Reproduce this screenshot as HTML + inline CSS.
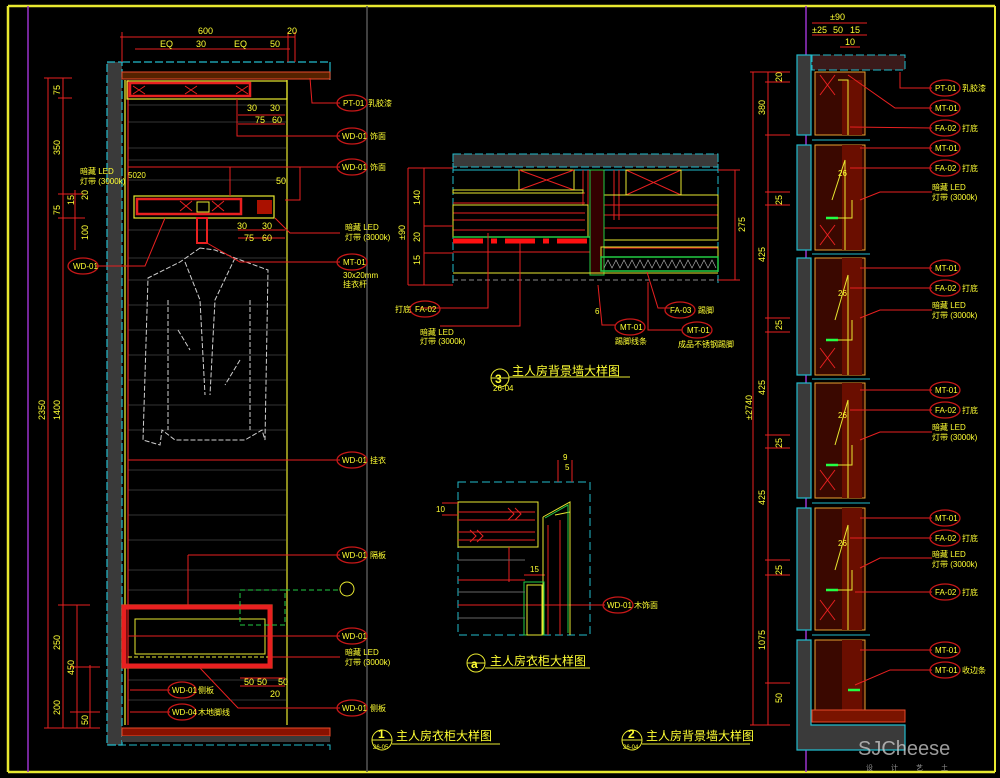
<!DOCTYPE html>
<html><head><meta charset="utf-8"><style>
html,body{margin:0;padding:0;background:#000;}
svg{display:block}
text{font-family:"Liberation Sans","Noto Sans CJK SC",sans-serif;fill:#ffff33}
.s{font-size:8px}
.d{font-size:9px}
</style></head><body>
<svg width="1000" height="778" viewBox="0 0 1000 778" xmlns="http://www.w3.org/2000/svg">
<rect width="1000" height="778" fill="#000"/>
<!-- frame -->
<g fill="none">
<line x1="8" y1="6" x2="995" y2="6" stroke="#e8e830" stroke-width="2.5"/>
<line x1="8" y1="772" x2="995" y2="772" stroke="#e8e830" stroke-width="2.5"/>
<line x1="8" y1="6" x2="8" y2="772" stroke="#e8e830" stroke-width="2.5"/>
<line x1="995" y1="6" x2="995" y2="772" stroke="#e8e830" stroke-width="2"/>
<line x1="28" y1="6" x2="28" y2="772" stroke="#9933cc" stroke-width="1.5"/>
<line x1="367" y1="6" x2="367" y2="772" stroke="#555" stroke-width="1.5"/>
<line x1="806" y1="6" x2="806" y2="772" stroke="#9933cc" stroke-width="1.5"/>
</g>

<!-- ===== LEFT CABINET ===== -->
<g fill="none">
<!-- faint shelf lines -->
<g stroke="#444" stroke-width="0.8">
<line x1="128" y1="105" x2="286" y2="105"/><line x1="128" y1="122" x2="286" y2="122"/>
<line x1="128" y1="148" x2="286" y2="148"/><line x1="128" y1="160" x2="286" y2="160"/>
<line x1="128" y1="180" x2="286" y2="180"/><line x1="128" y1="230" x2="286" y2="230"/>
<line x1="128" y1="258" x2="286" y2="258"/><line x1="128" y1="280" x2="286" y2="280"/>
<line x1="128" y1="305" x2="286" y2="305"/><line x1="128" y1="330" x2="286" y2="330"/>
<line x1="128" y1="355" x2="286" y2="355"/><line x1="128" y1="380" x2="286" y2="380"/>
<line x1="128" y1="405" x2="286" y2="405"/><line x1="128" y1="430" x2="286" y2="430"/>
<line x1="128" y1="470" x2="286" y2="470"/><line x1="128" y1="490" x2="286" y2="490"/>
<line x1="128" y1="515" x2="286" y2="515"/><line x1="128" y1="540" x2="286" y2="540"/>
<line x1="128" y1="570" x2="286" y2="570"/><line x1="128" y1="590" x2="286" y2="590"/>
<line x1="128" y1="680" x2="286" y2="680"/><line x1="128" y1="700" x2="286" y2="700"/>
</g>
<!-- wall -->
<rect x="107" y="62" width="15" height="683" fill="#3a3a3a" stroke="#22bbcc" stroke-width="1.2" stroke-dasharray="8 3"/>
<line x1="122" y1="62" x2="330" y2="62" stroke="#22bbcc" stroke-width="1.2" stroke-dasharray="8 3"/>
<line x1="330" y1="62" x2="330" y2="80" stroke="#22bbcc" stroke-width="1.2"/>
<rect x="122" y="72" width="208" height="7" fill="#552200" stroke="#e84a2a" stroke-width="1"/>
<!-- cabinet sides -->
<line x1="125" y1="80" x2="125" y2="725" stroke="#e8e830" stroke-width="1.3"/>
<line x1="128" y1="80" x2="128" y2="725" stroke="#e82020" stroke-width="1.2"/>
<line x1="287" y1="80" x2="287" y2="725" stroke="#e8e830" stroke-width="1.2"/>
<!-- top box -->
<rect x="127" y="81" width="160" height="18" stroke="#e8e830" stroke-width="1.2"/>
<rect x="130" y="83" width="120" height="13" stroke="#e82020" stroke-width="2.5"/>
<path d="M133 86 l12 8 M145 86 l-12 8 M185 86 l12 8 M197 86 l-12 8 M236 86 l12 8 M248 86 l-12 8" stroke="#e82020"/>
<!-- middle shelf -->
<rect x="134" y="196" width="140" height="22" stroke="#e8e830" stroke-width="1.2"/>
<rect x="137" y="199" width="104" height="15" stroke="#e82020" stroke-width="2.5"/>
<rect x="197" y="202" width="12" height="10" stroke="#e8e830"/>
<path d="M180 201 l12 10 M192 201 l-12 10 M212 201 l12 10 M224 201 l-12 10" stroke="#e82020"/>
<rect x="257" y="200" width="15" height="14" fill="#aa1100"/>
<!-- hanger rod -->
<rect x="197" y="218" width="10" height="25" stroke="#e82020" stroke-width="2"/>
<!-- coat -->
<g stroke="#cfcfcf" stroke-width="1" stroke-dasharray="5 2">
<path d="M200 248 L180 262 L148 278 L143 440 L160 445 L162 430 L175 440 L245 440 L262 430 L265 440 L268 270 L235 258 L215 250 Z"/>
<path d="M185 262 L200 300 L205 395 M235 258 L215 300 L210 395"/>
<path d="M168 300 L168 430 M250 300 L250 430 M178 330 L190 350 M240 360 L225 385"/>
</g>
<!-- bottom drawer -->
<rect x="122" y="605" width="150" height="63" stroke="#e8e830" stroke-width="1.2"/>
<rect x="124" y="607" width="146" height="59" stroke="#e82020" stroke-width="5"/>
<rect x="135" y="619" width="130" height="35" stroke="#e8e830" stroke-width="1"/>
<line x1="128" y1="657" x2="268" y2="657" stroke="#e8e830" stroke-dasharray="4 2"/>
<rect x="240" y="590" width="45" height="35" stroke="#22cc44" stroke-dasharray="5 3"/>
<line x1="285" y1="590" x2="340" y2="590" stroke="#22cc44" stroke-dasharray="5 3"/>
<circle cx="347" cy="589" r="7" stroke="#e8e830"/>
<!-- floor -->
<rect x="122" y="728" width="208" height="8" fill="#881100" stroke="#e84a2a"/>
<rect x="122" y="736" width="208" height="6" fill="#3a3a3a"/>
<path d="M107 745 L330 745 L330 752" stroke="#22bbcc" stroke-dasharray="8 3"/>
<!-- left dims -->
<g stroke="#e82020" stroke-width="1">
<line x1="48" y1="78" x2="48" y2="728"/><line x1="63" y1="78" x2="63" y2="728"/>
<line x1="75" y1="190" x2="75" y2="250"/><line x1="77" y1="605" x2="77" y2="728"/><line x1="90" y1="665" x2="90" y2="728"/>
<line x1="44" y1="78" x2="72" y2="78"/><line x1="58" y1="98" x2="72" y2="98"/><line x1="58" y1="194" x2="85" y2="194"/>
<line x1="58" y1="218" x2="85" y2="218"/><line x1="44" y1="728" x2="100" y2="728"/><line x1="58" y1="605" x2="90" y2="605"/>
<line x1="70" y1="667" x2="100" y2="667"/><line x1="70" y1="712" x2="100" y2="712"/>
<!-- top dims -->
<line x1="120" y1="37" x2="295" y2="37"/><line x1="135" y1="49" x2="290" y2="49"/>
<line x1="122" y1="32" x2="122" y2="62"/><line x1="288" y1="32" x2="288" y2="62"/><line x1="295" y1="32" x2="295" y2="62"/>
</g>
<!-- leaders -->
<g stroke="#e82020" stroke-width="1">
<path d="M310 78 L312 103 L340 103"/><path d="M237 99 L237 136 L340 136"/>
<path d="M128 167 L340 167 M230 167 L230 196 M300 167 L300 200 L285 200"/>
<path d="M275 218 L290 233 L340 233"/><path d="M207 243 L240 262 L340 262"/>
<path d="M95 266 L145 266 L165 218"/><path d="M128 460 L340 460"/><path d="M188 555 L340 555 M188 555 L188 605"/>
<path d="M128 636 L340 636"/><path d="M270 657 L340 657"/><path d="M200 668 L238 708 L340 708"/>
<path d="M130 690 L170 690"/><path d="M130 712 L170 712"/>
<path d="M238 115 L285 115 M238 124 L285 124 M238 230 L285 230 M238 238 L285 238 M240 678 L285 678 M240 686 L285 686"/>
</g>
<g stroke="#c81818" stroke-width="1.3">
<ellipse cx="352" cy="103" rx="15" ry="8"/><ellipse cx="352" cy="136" rx="15" ry="8"/><ellipse cx="352" cy="167" rx="15" ry="8"/>
<ellipse cx="352" cy="262" rx="15" ry="8"/><ellipse cx="83" cy="266" rx="15" ry="8"/><ellipse cx="352" cy="460" rx="15" ry="8"/>
<ellipse cx="352" cy="555" rx="15" ry="8"/><ellipse cx="352" cy="636" rx="15" ry="8"/><ellipse cx="352" cy="708" rx="15" ry="8"/>
<ellipse cx="182" cy="690" rx="14" ry="8"/><ellipse cx="182" cy="712" rx="14" ry="8"/>
</g>
</g>
<g class="s">
<text x="343" y="106">PT-01</text><text x="368" y="106">乳胶漆</text>
<text x="342" y="139">WD-01</text><text x="370" y="139">饰面</text>
<text x="342" y="170">WD-01</text><text x="370" y="170">饰面</text>
<text x="345" y="230">暗藏 LED</text><text x="345" y="240">灯带 (3000k)</text>
<text x="343" y="265">MT-01</text><text x="343" y="278">30x20mm</text><text x="343" y="287">挂衣杆</text>
<text x="73" y="269">WD-01</text>
<text x="342" y="463">WD-01</text><text x="370" y="463">挂衣</text>
<text x="342" y="558">WD-01</text><text x="370" y="558">隔板</text>
<text x="342" y="639">WD-01</text>
<text x="345" y="655">暗藏 LED</text><text x="345" y="665">灯带 (3000k)</text>
<text x="342" y="711">WD-01</text><text x="370" y="711">侧板</text>
<text x="172" y="693">WD-01</text><text x="198" y="693">侧板</text>
<text x="172" y="715">WD-04</text><text x="198" y="715">木地脚线</text>
<text x="80" y="174">暗藏 LED</text><text x="80" y="184">灯带 (3000k)</text>
<text x="128" y="178">5020</text>
</g>
<g class="d">
<text x="198" y="34">600</text><text x="287" y="34">20</text>
<text x="160" y="47">EQ</text><text x="196" y="47">30</text><text x="234" y="47">EQ</text><text x="270" y="47">50</text>
<text x="247" y="111">30</text><text x="270" y="111">30</text><text x="255" y="123">75</text><text x="272" y="123">60</text>
<text x="237" y="229">30</text><text x="262" y="229">30</text><text x="244" y="241">75</text><text x="262" y="241">60</text>
<text x="276" y="184">50</text>
<text x="244" y="685">50</text><text x="257" y="685">50</text><text x="278" y="685">50</text><text x="270" y="697">20</text>
<g transform="rotate(-90)">
<text x="-95" y="60">75</text><text x="-155" y="60">350</text><text x="-215" y="60">75</text>
<text x="-420" y="45">2350</text><text x="-420" y="60">1400</text>
<text x="-650" y="60">250</text><text x="-675" y="74">450</text><text x="-715" y="60">200</text>
<text x="-240" y="88">100</text><text x="-205" y="74">15</text><text x="-200" y="88">20</text><text x="-725" y="88">50</text>
</g>
</g>

<!-- ===== DETAIL 3 ===== -->
<g fill="none">
<rect x="453" y="154" width="265" height="13" fill="#3a3a3a" stroke="#22bbcc" stroke-dasharray="8 3"/>
<line x1="453" y1="154" x2="453" y2="285" stroke="#22bbcc" stroke-dasharray="8 3"/>
<line x1="718" y1="154" x2="718" y2="285" stroke="#22bbcc" stroke-dasharray="8 3"/>
<line x1="453" y1="170" x2="718" y2="170" stroke="#22bbcc"/>
<rect x="519" y="170" width="55" height="20" stroke="#e8e830"/>
<path d="M519 170 l55 20 M574 170 l-55 20 M626 170 l55 25 M681 170 l-55 25" stroke="#e82020"/>
<rect x="626" y="170" width="55" height="25" stroke="#e8e830"/>
<g stroke="#e82020">
<line x1="453" y1="193" x2="585" y2="193"/><line x1="453" y1="203" x2="585" y2="203"/><line x1="453" y1="213" x2="585" y2="213"/>
<line x1="453" y1="220" x2="585" y2="220"/><line x1="453" y1="230" x2="585" y2="230"/>
<line x1="604" y1="205" x2="718" y2="205"/><line x1="604" y1="215" x2="718" y2="215"/><line x1="604" y1="228" x2="718" y2="228"/>
<line x1="604" y1="240" x2="718" y2="240"/><line x1="604" y1="248" x2="718" y2="248"/>
<line x1="453" y1="252" x2="590" y2="252"/><line x1="583" y1="170" x2="583" y2="205"/><line x1="588" y1="170" x2="588" y2="205"/>
<line x1="614" y1="170" x2="614" y2="220"/><line x1="619" y1="170" x2="619" y2="220"/>
</g>
<rect x="453" y="190" width="130" height="3" stroke="#e8e830"/>
<rect x="453" y="205" width="135" height="32" stroke="#e8e830"/>
<line x1="453" y1="237" x2="590" y2="237" stroke="#22cc44" stroke-width="1.5"/>
<rect x="604" y="195" width="114" height="45" stroke="#e8e830"/>
<line x1="453" y1="241" x2="590" y2="241" stroke="#ff1010" stroke-width="5" stroke-dasharray="30 8 6 8"/>
<rect x="590" y="170" width="14" height="105" fill="#330000" stroke="#22cc44"/>
<rect x="601" y="247" width="117" height="10" stroke="#e8e830"/>
<rect x="601" y="257" width="117" height="14" stroke="#22cc44" stroke-width="1.5"/>
<path d="M604 268 l4 -8 l4 8 l4 -8 l4 8 l4 -8 l4 8 l4 -8 l4 8 l4 -8 l4 8 l4 -8 l4 8 l4 -8 l4 8 l4 -8 l4 8 l4 -8 l4 8 l4 -8 l4 8 l4 -8 l4 8 l4 -8 l4 8 l4 -8 l4 8 l4 -8 l4 8" stroke="#aaa" stroke-width="0.7"/>
<line x1="453" y1="273" x2="718" y2="273" stroke="#e8e830"/>
<line x1="453" y1="280" x2="718" y2="280" stroke="#888" stroke-dasharray="5 3"/>
<g stroke="#e82020">
<line x1="408" y1="168" x2="453" y2="168"/><line x1="424" y1="168" x2="424" y2="285"/><line x1="408" y1="168" x2="408" y2="285"/>
<line x1="408" y1="285" x2="453" y2="285"/><line x1="424" y1="226" x2="453" y2="226"/><line x1="424" y1="253" x2="453" y2="253"/>
<line x1="735" y1="170" x2="735" y2="280"/><line x1="718" y1="170" x2="740" y2="170"/><line x1="718" y1="280" x2="740" y2="280"/>
<path d="M488 233 L488 308 L420 308"/><path d="M520 241 L520 326 L440 326"/>
<path d="M598 285 L602 325 L615 325"/><path d="M647 272 L658 308 L670 308"/><path d="M648 282 L648 330 L682 330"/>
</g>
<g stroke="#c81818" stroke-width="1.3"><ellipse cx="425" cy="309" rx="15" ry="8"/><ellipse cx="630" cy="327" rx="15" ry="8"/><ellipse cx="680" cy="310" rx="15" ry="8"/><ellipse cx="697" cy="330" rx="15" ry="8"/></g>
<circle cx="500" cy="378" r="9" stroke="#e8e830"/><line x1="491" y1="378" x2="509" y2="378" stroke="#e8e830"/>
<line x1="509" y1="377" x2="630" y2="377" stroke="#e8e830"/>
</g>
<g class="s">
<text x="395" y="312">打底</text><text x="415" y="312">FA-02</text>
<text x="420" y="335">暗藏 LED</text><text x="420" y="344">灯带 (3000k)</text>
<text x="620" y="330">MT-01</text><text x="615" y="344">踢脚线条</text>
<text x="670" y="313">FA-03</text><text x="698" y="313">踢脚</text>
<text x="687" y="333">MT-01</text><text x="678" y="347">成品不锈钢踢脚</text>
<text x="595" y="314">6</text>
<text x="493" y="391">26-04</text>
</g>
<g class="d"><g transform="rotate(-90)"><text x="-240" y="405">±90</text><text x="-205" y="420">140</text><text x="-242" y="420">20</text><text x="-265" y="420">15</text><text x="-232" y="745">275</text></g></g>
<text x="495" y="383" style="font-size:12px;font-weight:bold">3</text>
<text x="512" y="375" style="font-size:12px">主人房背景墙大样图</text>

<!-- ===== DETAIL a ===== -->
<g fill="none">
<rect x="458" y="482" width="132" height="153" stroke="#22bbcc" stroke-dasharray="8 4"/>
<rect x="458" y="502" width="80" height="45" stroke="#e8e830"/>
<g stroke="#e82020">
<line x1="458" y1="512" x2="535" y2="512"/><line x1="458" y1="520" x2="535" y2="520"/><line x1="458" y1="532" x2="535" y2="532"/><line x1="458" y1="540" x2="535" y2="540"/>
<path d="M508 508 l6 6 l-6 6 M515 508 l6 6 l-6 6 M470 530 l6 6 l-6 6 M477 530 l6 6 l-6 6"/>
<line x1="458" y1="580" x2="525" y2="580"/><line x1="458" y1="605" x2="525" y2="605"/>
<line x1="548" y1="525" x2="548" y2="635"/><line x1="560" y1="520" x2="560" y2="635"/>
<line x1="470" y1="605" x2="605" y2="605"/><line x1="509" y1="547" x2="509" y2="582" /><line x1="524" y1="575" x2="545" y2="575"/>
<line x1="442" y1="503" x2="458" y2="503"/><line x1="442" y1="515" x2="458" y2="515"/>
<line x1="558" y1="460" x2="558" y2="482"/><line x1="572" y1="460" x2="572" y2="482"/>
</g>
<path d="M543 517 L570 502 L570 635 M543 517 L543 635 M555 515 L570 512" stroke="#e8e830"/>
<path d="M545 518 L568 505 L568 633" stroke="#22cc44"/>
<rect x="524" y="582" width="20" height="53" stroke="#22cc44"/>
<rect x="527" y="585" width="15" height="50" stroke="#e8e830"/>
<g stroke="#666"><line x1="458" y1="560" x2="525" y2="560"/><line x1="458" y1="592" x2="525" y2="592"/><line x1="458" y1="618" x2="525" y2="618"/></g>
<ellipse cx="618" cy="605" rx="15" ry="8" stroke="#c81818" stroke-width="1.3"/>
<circle cx="476" cy="663" r="9" stroke="#e8e830"/><line x1="467" y1="663" x2="485" y2="663" stroke="#e8e830"/>
<line x1="485" y1="668" x2="590" y2="668" stroke="#e8e830"/>
</g>
<g class="s"><text x="607" y="608">WD-01</text><text x="634" y="608">木饰面</text><text x="563" y="460">9</text><text x="565" y="470">5</text><text x="436" y="512">10</text><text x="530" y="572">15</text></g>
<text x="471" y="668" style="font-size:12px;font-weight:bold">a</text>
<text x="490" y="665" style="font-size:12px">主人房衣柜大样图</text>

<!-- ===== TITLES ===== -->
<g fill="none" stroke="#e8e830">
<circle cx="382" cy="740" r="10"/><line x1="372" y1="740" x2="392" y2="740"/><line x1="392" y1="744" x2="500" y2="744"/>
<circle cx="632" cy="740" r="10"/><line x1="622" y1="740" x2="642" y2="740"/><line x1="642" y1="744" x2="750" y2="744"/>
</g>
<text x="378" y="738" style="font-size:12px;font-weight:bold">1</text><text x="396" y="740" style="font-size:12px">主人房衣柜大样图</text>
<text x="628" y="738" style="font-size:12px;font-weight:bold">2</text><text x="646" y="740" style="font-size:12px">主人房背景墙大样图</text>
<text x="373" y="749" class="s" style="font-size:6px">26-05</text><text x="623" y="749" class="s" style="font-size:6px">26-04</text>

<!-- ===== RIGHT ELEVATION ===== -->
<g fill="none">
<rect x="812" y="55" width="93" height="15" fill="#3a1a1a" stroke="#22bbcc" stroke-dasharray="8 3"/>
<g stroke-width="1.2">
<rect x="797" y="55" width="14" height="80" fill="#3a3a3a" stroke="#22bbcc"/>
<rect x="797" y="145" width="14" height="105" fill="#3a3a3a" stroke="#22bbcc"/>
<rect x="797" y="258" width="14" height="117" fill="#3a3a3a" stroke="#22bbcc"/>
<rect x="797" y="383" width="14" height="115" fill="#3a3a3a" stroke="#22bbcc"/>
<rect x="797" y="508" width="14" height="122" fill="#3a3a3a" stroke="#22bbcc"/>
<path d="M797 640 L811 640 L811 725 L905 725 L905 750 L797 750 Z" fill="#3a3a3a" stroke="#22bbcc"/>
</g>
<g stroke="#e8a030">
<rect x="815" y="72" width="50" height="63" fill="#3a0800"/>
<rect x="815" y="145" width="50" height="105" fill="#3a0800"/>
<rect x="815" y="258" width="50" height="117" fill="#3a0800"/>
<rect x="815" y="383" width="50" height="115" fill="#3a0800"/>
<rect x="815" y="508" width="50" height="122" fill="#3a0800"/>
<rect x="815" y="640" width="50" height="70" fill="#3a0800"/>
</g>
<g fill="#6a0e00">
<rect x="842" y="80" width="20" height="55"/><rect x="842" y="145" width="20" height="105"/><rect x="842" y="258" width="20" height="117"/>
<rect x="842" y="383" width="20" height="115"/><rect x="842" y="508" width="20" height="122"/><rect x="842" y="640" width="20" height="70"/>
</g>
<rect x="812" y="710" width="93" height="12" fill="#7a1400" stroke="#e84a2a"/>
<g stroke="#e8e830">
<path d="M838 80 L848 80 L848 135 M832 200 L845 160 L845 250 M835 320 L848 275 L848 375 M835 445 L848 400 L848 498 M835 570 L848 525 L848 630"/>
<path d="M828 218 L852 218 L852 200 M828 340 L852 340 L852 320 M828 465 L852 465 L852 445 M828 590 L852 590 L852 570"/>
<path d="M820 225 L835 245 M835 225 L820 245 M820 348 L835 368 M835 348 L820 368 M820 470 L835 490 M835 470 L820 490 M820 600 L835 620 M835 600 L820 620 M820 75 L835 95 M835 75 L820 95" stroke="#e82020"/>
<path d="M826 218 L838 218 M826 340 L838 340 M826 465 L838 465 M826 590 L838 590 M848 690 L860 690" stroke="#22ff44" stroke-width="2.5"/>
</g>
<g stroke="#22bbcc"><line x1="812" y1="140" x2="870" y2="140"/><line x1="812" y1="254" x2="870" y2="254"/><line x1="812" y1="379" x2="870" y2="379"/><line x1="812" y1="503" x2="870" y2="503"/><line x1="812" y1="635" x2="870" y2="635"/></g>
<!-- dims -->
<g stroke="#e82020">
<line x1="753" y1="72" x2="753" y2="725"/><line x1="768" y1="72" x2="768" y2="725"/>
<line x1="750" y1="72" x2="790" y2="72"/><line x1="765" y1="82" x2="790" y2="82"/><line x1="765" y1="135" x2="790" y2="135"/>
<line x1="765" y1="192" x2="790" y2="192"/><line x1="765" y1="205" x2="790" y2="205"/><line x1="765" y1="318" x2="790" y2="318"/>
<line x1="765" y1="332" x2="790" y2="332"/><line x1="765" y1="435" x2="790" y2="435"/><line x1="765" y1="448" x2="790" y2="448"/>
<line x1="765" y1="560" x2="790" y2="560"/><line x1="765" y1="575" x2="790" y2="575"/><line x1="765" y1="683" x2="790" y2="683"/>
<line x1="750" y1="725" x2="790" y2="725"/>
<line x1="812" y1="23" x2="867" y2="23"/><line x1="812" y1="35" x2="867" y2="35"/><line x1="840" y1="47" x2="860" y2="47"/>
</g>
<g stroke="#e82020">
<path d="M900 72 L900 88 L932 88"/><path d="M848 75 L895 108 L932 108"/><path d="M850 127 L932 128"/>
<path d="M860 148 L932 148"/><path d="M850 168 L932 168"/><path d="M860 200 L880 192 L932 192"/>
<path d="M860 268 L932 268"/><path d="M850 288 L932 288"/><path d="M860 318 L880 310 L932 310"/>
<path d="M860 390 L932 390"/><path d="M850 410 L932 410"/><path d="M860 440 L880 432 L932 432"/>
<path d="M860 518 L932 518"/><path d="M850 538 L932 538"/><path d="M860 568 L880 558 L932 558"/><path d="M855 592 L932 592"/>
<path d="M860 650 L932 650"/><path d="M855 685 L890 670 L932 670"/>
</g>
<g stroke="#c81818" stroke-width="1.3">
<ellipse cx="945" cy="88" rx="15" ry="8"/><ellipse cx="945" cy="108" rx="15" ry="8"/><ellipse cx="945" cy="128" rx="15" ry="8"/>
<ellipse cx="945" cy="148" rx="15" ry="8"/><ellipse cx="945" cy="168" rx="15" ry="8"/>
<ellipse cx="945" cy="268" rx="15" ry="8"/><ellipse cx="945" cy="288" rx="15" ry="8"/>
<ellipse cx="945" cy="390" rx="15" ry="8"/><ellipse cx="945" cy="410" rx="15" ry="8"/>
<ellipse cx="945" cy="518" rx="15" ry="8"/><ellipse cx="945" cy="538" rx="15" ry="8"/><ellipse cx="945" cy="592" rx="15" ry="8"/>
<ellipse cx="945" cy="650" rx="15" ry="8"/><ellipse cx="945" cy="670" rx="15" ry="8"/>
</g>
</g>
<g class="s">
<text x="935" y="91">PT-01</text><text x="962" y="91">乳胶漆</text>
<text x="935" y="111">MT-01</text><text x="935" y="131">FA-02</text><text x="962" y="131">打底</text>
<text x="935" y="151">MT-01</text><text x="935" y="171">FA-02</text><text x="962" y="171">打底</text>
<text x="932" y="190">暗藏 LED</text><text x="932" y="200">灯带 (3000k)</text>
<text x="935" y="271">MT-01</text><text x="935" y="291">FA-02</text><text x="962" y="291">打底</text>
<text x="932" y="308">暗藏 LED</text><text x="932" y="318">灯带 (3000k)</text>
<text x="935" y="393">MT-01</text><text x="935" y="413">FA-02</text><text x="962" y="413">打底</text>
<text x="932" y="430">暗藏 LED</text><text x="932" y="440">灯带 (3000k)</text>
<text x="935" y="521">MT-01</text><text x="935" y="541">FA-02</text><text x="962" y="541">打底</text>
<text x="932" y="557">暗藏 LED</text><text x="932" y="567">灯带 (3000k)</text>
<text x="935" y="595">FA-02</text><text x="962" y="595">打底</text>
<text x="935" y="653">MT-01</text><text x="935" y="673">MT-01</text><text x="962" y="673">收边条</text>
<text x="838" y="176">26</text><text x="838" y="296">26</text><text x="838" y="418">26</text><text x="838" y="546">26</text>
</g>
<g class="d">
<text x="830" y="20">±90</text><text x="812" y="33">±25</text><text x="833" y="33">50</text><text x="850" y="33">15</text><text x="845" y="45">10</text>
<g transform="rotate(-90)">
<text x="-82" y="782">20</text><text x="-115" y="765">380</text><text x="-205" y="782">25</text><text x="-262" y="765">425</text>
<text x="-330" y="782">25</text><text x="-420" y="752">±2740</text><text x="-395" y="765">425</text><text x="-448" y="782">25</text>
<text x="-505" y="765">425</text><text x="-575" y="782">25</text><text x="-650" y="765">1075</text><text x="-703" y="782">50</text>
</g>
</g>
<text x="858" y="755" style="font-size:20px;fill:#cfcfcf;opacity:0.75">SJCheese</text>
<text x="866" y="770" style="font-size:7px;fill:#cfcfcf;opacity:0.7" letter-spacing="18">设计艺土</text>
</svg>
</body></html>
